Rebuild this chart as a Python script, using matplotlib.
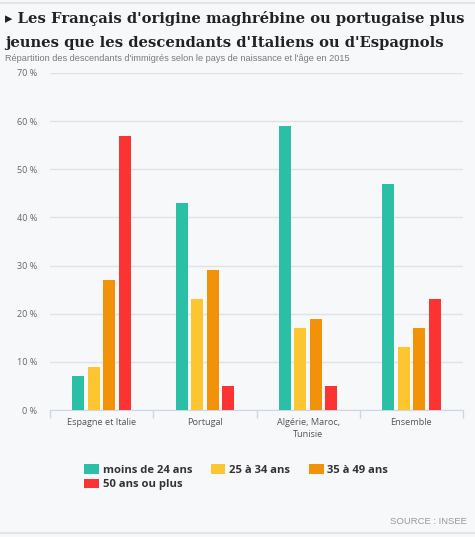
import numpy as np
import matplotlib
matplotlib.use("Agg")
import matplotlib.pyplot as plt

categories = ["Espagne et Italie", "Portugal", "Algérie, Maroc,\nTunisie", "Ensemble"]
series_names = ["moins de 24 ans", "25 à 34 ans", "35 à 49 ans", "50 ans ou plus"]
moins_24 = [7, 43, 59, 47]
de_25_34 = [9, 23, 17, 13]
de_35_49 = [27, 29, 19, 17]
plus_50 = [57, 5, 5, 23]
series = [moins_24, de_25_34, de_35_49, plus_50]
colors = ["#2bbfa5", "#fdc530", "#f19208", "#fb3333"]
yticks = [0, 10, 20, 30, 40, 50, 60, 70]

W, H = 475, 537
bg = "#f7f8fa"
fig = plt.figure(figsize=(W / 100, H / 100), dpi=100, facecolor=bg)

# thin frame lines top and bottom
fig.add_artist(plt.Line2D([0, 1], [1 - 3 / H, 1 - 3 / H], color="#e2e4e8", lw=1.5))
fig.add_artist(plt.Line2D([0, 1], [4 / H, 4 / H], color="#e2e4e8", lw=1.5))

fig.text(5 / W, 1 - 18 / H, "▸ Les Français d'origine maghrébine ou portugaise plus",
         family="DejaVu Serif", weight="bold", fontsize=10.6, color="#222222", va="center")
fig.text(5 / W, 1 - 43 / H, "jeunes que les descendants d'Italiens ou d'Espagnols",
         family="DejaVu Serif", weight="bold", fontsize=10.6, color="#222222", va="center")
fig.text(5 / W, 1 - 59 / H,
         "Répartition des descendants d'immigrés selon le pays de naissance et l'âge en 2015",
         family="Liberation Sans", fontsize=6.6, color="#7a7a7a", va="center")

ax = fig.add_axes([50 / W, (H - 410) / H, 413 / W, (410 - 73) / H])
ax.set_facecolor(bg)

x = np.arange(len(categories))
step = 0.15
width = 0.115
handles = []
for i, (vals, c) in enumerate(zip(series, colors)):
    b = ax.bar(x + (i - 1.5) * step, vals, width, color=c, label=series_names[i], zorder=3)
    handles.append(b)

ax.set_xlim(-0.5, len(categories) - 0.5)
ax.set_ylim(0, 70)
ax.set_yticks(yticks)
ax.set_yticklabels([f"{v} %" for v in yticks], family="Open Sans", fontsize=6.5, color="#666666")
ax.yaxis.grid(True, color="#e0e2e6", lw=1, zorder=0)
ax.tick_params(axis="y", length=0, pad=9)

ax.set_xticks(x)
ax.set_xticklabels(categories, family="Open Sans", fontsize=6.6, color="#555555",
                   linespacing=1.4)
ax.set_xticks(np.arange(-0.5, len(categories)), minor=True)
ax.tick_params(axis="x", which="major", length=0, pad=6)
ax.tick_params(axis="x", which="minor", length=6, color="#ccd6eb", width=1)

for s in ["top", "right", "left"]:
    ax.spines[s].set_visible(False)
ax.spines["bottom"].set_color("#ccd6eb")

# legend filled column by column, so reorder to get rows
order = [0, 3, 1, 2]
leg = fig.legend(handles=[handles[k] for k in order], ncol=3, loc="upper left",
                 bbox_to_anchor=(74 / W, 1 - 454 / H), frameon=False,
                 prop={"family": "Open Sans", "weight": "bold", "size": 8.1},
                 handlelength=1.3, handleheight=0.95, handletextpad=0.35,
                 columnspacing=1.65, labelspacing=0.25)
for t in leg.get_texts():
    t.set_color("#333333")

fig.text(1 - 8 / W, 1 - 521 / H, "SOURCE : INSEE", family="Liberation Sans",
         fontsize=6.8, color="#999999", ha="right", va="center")

fig.savefig("out.png", dpi=100, facecolor=bg)
